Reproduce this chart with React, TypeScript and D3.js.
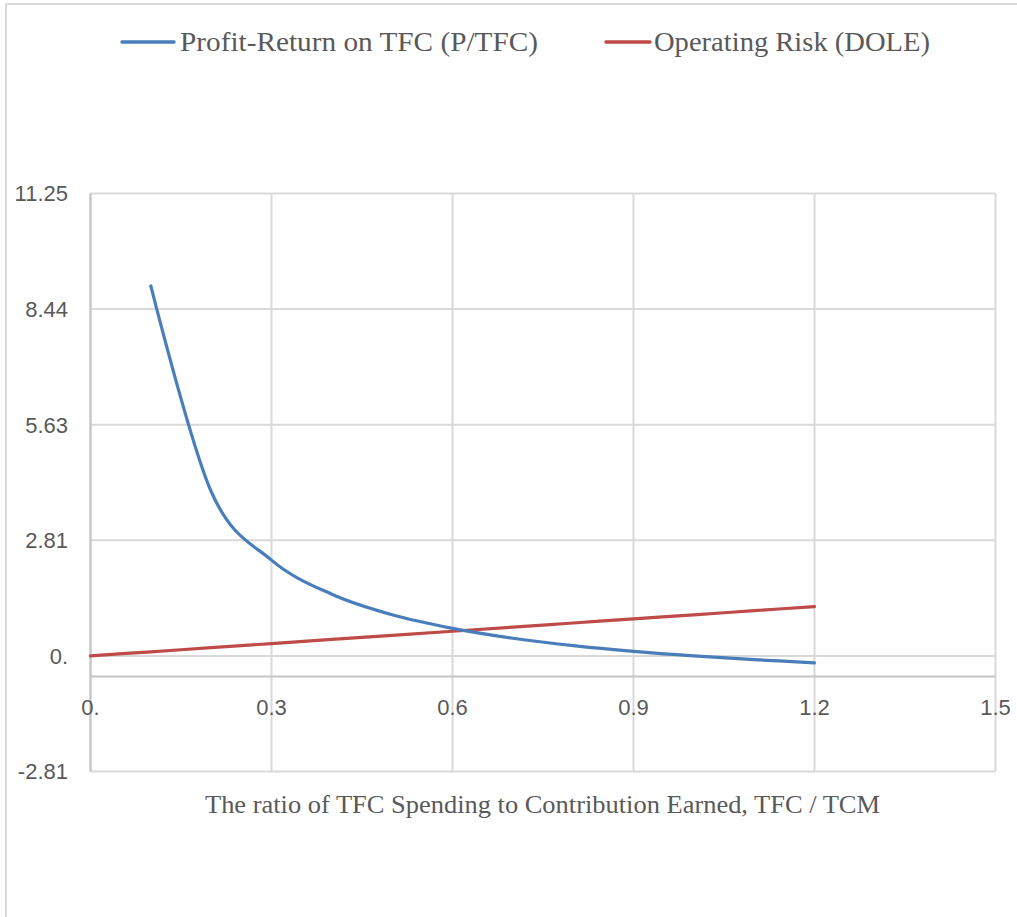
import React from "react";
import * as d3 from "d3";

const ratioX = [0.1, 0.2, 0.3, 0.4, 0.5, 0.6, 0.7, 0.8, 0.9, 1.0, 1.1, 1.2];
const profitReturn = [9.0, 4.0, 2.33, 1.5, 1.0, 0.67, 0.43, 0.25, 0.11, 0.0, -0.09, -0.17];
const riskX = [0, 0.1, 0.2, 0.3, 0.4, 0.5, 0.6, 0.7, 0.8, 0.9, 1.0, 1.1, 1.2];
const operatingRisk = [0, 0.1, 0.2, 0.3, 0.4, 0.5, 0.6, 0.7, 0.8, 0.9, 1.0, 1.1, 1.2];
const xTicks = [0, 0.3, 0.6, 0.9, 1.2, 1.5];
const xTickLabels = ["0.", "0.3", "0.6", "0.9", "1.2", "1.5"];
const yTicks = [-2.8125, 0, 2.8125, 5.625, 8.4375, 11.25];
const yTickLabels = ["-2.81", "0.", "2.81", "5.63", "8.44", "11.25"];
const seriesNames = ["Profit-Return on TFC (P/TFC)", "Operating Risk (DOLE)"];
const xTitle = "The ratio of TFC Spending to Contribution Earned, TFC / TCM";

const BLUE = "#4a7ebb";
const RED = "#be4b48";

export default function App() {
  const W = 1017, H = 917;
  const left = 90.5, right = 995.5, top = 193.5, bottom = 771.5;
  const x = d3.scaleLinear().domain([0, 1.5]).range([left, right]);
  const y = d3.scaleLinear().domain([-2.8125, 11.25]).range([bottom, top]);
  const line = d3
    .line<[number, number]>()
    .x((d) => x(d[0]))
    .y((d) => y(d[1]))
    .curve(d3.curveCardinal.tension(0));
  const blueD = line(ratioX.map((v, i) => [v, profitReturn[i]] as [number, number]));
  const redD = line(riskX.map((v, i) => [v, operatingRisk[i]] as [number, number]));
  const axisY = y(-0.5);
  const serif = "'Liberation Serif', 'Times New Roman', serif";
  const sans = "'Liberation Sans', Arial, sans-serif";
  return (
    <svg width={W} height={H} style={{ position: "absolute", left: 0, top: 0, background: "#fff" }}>
      <rect x={6} y={4} width={W + 10} height={H + 10} fill="#fff" stroke="#d9d9d9" strokeWidth={2} />
      {yTicks.map((t, i) => (
        <line key={"gy" + i} x1={left} x2={right} y1={y(t)} y2={y(t)} stroke="#d9d9d9" strokeWidth={2} />
      ))}
      {xTicks.map((t, i) => (
        <line key={"gx" + i} x1={x(t)} x2={x(t)} y1={top} y2={bottom} stroke="#d9d9d9" strokeWidth={2} />
      ))}
      <line x1={left} x2={right} y1={axisY} y2={axisY} stroke="#c4c4c4" strokeWidth={2} />
      <line x1={left} x2={left} y1={top} y2={bottom} stroke="#c4c4c4" strokeWidth={2} />
      {yTicks.map((t, i) => (
        <text key={"ly" + i} x={68} y={y(t)} dy="0.36em" textAnchor="end" fontFamily={sans} fontSize={22} fill="#595959">
          {yTickLabels[i]}
        </text>
      ))}
      {xTicks.map((t, i) => (
        <text key={"lx" + i} x={x(t)} y={715} textAnchor="middle" fontFamily={sans} fontSize={22} fill="#595959">
          {xTickLabels[i]}
        </text>
      ))}
      <path d={redD || ""} fill="none" stroke={RED} strokeWidth={3.2} strokeLinecap="round" />
      <path d={blueD || ""} fill="none" stroke={BLUE} strokeWidth={3.2} strokeLinecap="round" />
      <text x={205} y={813} textLength={675} lengthAdjust="spacingAndGlyphs" fontFamily={serif} fontSize={25} fill="#595959">
        {xTitle}
      </text>
      <line x1={122} x2={174} y1={42} y2={42} stroke={BLUE} strokeWidth={3.5} strokeLinecap="round" />
      <text x={180} y={51} textLength={358} lengthAdjust="spacingAndGlyphs" fontFamily={serif} fontSize={27} fill="#595959">{seriesNames[0]}</text>
      <line x1={606} x2={650} y1={42} y2={42} stroke={RED} strokeWidth={3.5} strokeLinecap="round" />
      <text x={654} y={51} textLength={276} lengthAdjust="spacingAndGlyphs" fontFamily={serif} fontSize={27} fill="#595959">{seriesNames[1]}</text>
    </svg>
  );
}
